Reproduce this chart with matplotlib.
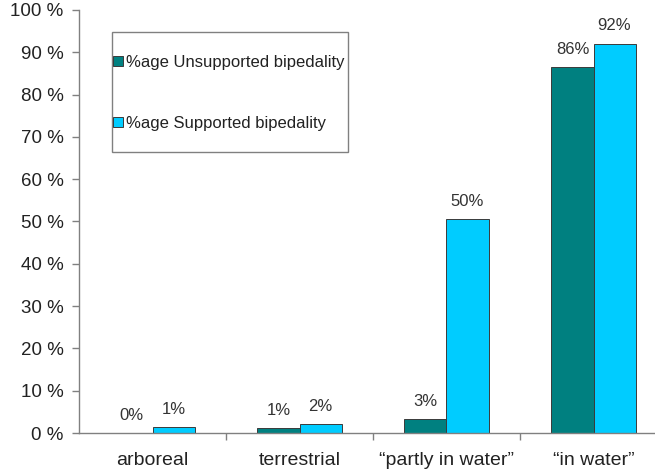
import matplotlib
matplotlib.use("Agg")
import matplotlib.pyplot as plt
import numpy as np
from matplotlib.patches import Rectangle

categories = ["arboreal", "terrestrial", "\u201cpartly in water\u201d", "\u201cin water\u201d"]
unsupported = [0.0, 1.2, 3.3, 86.5]
supported = [1.4, 2.1, 50.5, 92.0]
unsupported_labels = ["0%", "1%", "3%", "86%"]
supported_labels = ["1%", "2%", "50%", "92%"]
series_names = ["%age Unsupported bipedality", "%age Supported bipedality"]
yticks = list(range(0, 101, 10))

plt.rcParams['font.family'] = ['Liberation Sans', 'DejaVu Sans']

fig = plt.figure(figsize=(6.55, 4.70), dpi=100)
ax = fig.add_axes([79/655, 37/470, 588/655, 423/470])

x = np.arange(len(categories))
w = 0.286
c_dark = "#008080"
c_light = "#00CCFF"
ax.bar(x - w/2, unsupported, w, color=c_dark, edgecolor="#3a3a3a", linewidth=0.7,
       label=series_names[0])
ax.bar(x + w/2, supported, w, color=c_light, edgecolor="#3a3a3a", linewidth=0.7,
       label=series_names[1])

for xi, v, t in zip(x - w/2, unsupported, unsupported_labels):
    ax.annotate(t, (xi, v), xytext=(0, 7.5), textcoords="offset points",
                ha="center", va="bottom", fontsize=12, color="#333333")
for xi, v, t in zip(x + w/2, supported, supported_labels):
    ax.annotate(t, (xi, v), xytext=(0, 7.5), textcoords="offset points",
                ha="center", va="bottom", fontsize=12, color="#333333")

ax.set_xlim(-0.5, 3.5)
ax.set_ylim(0, 100)
ax.set_yticks(yticks)
ax.set_yticklabels([f"{v} %" for v in yticks], fontsize=13.5, color="#222222")
ax.set_xticks(x)
ax.set_xticklabels(categories, fontsize=14, color="#222222")
ax.set_xticks([0.5, 1.5, 2.5], minor=True)
ax.tick_params(axis="x", which="major", length=0, pad=14)
ax.tick_params(axis="x", which="minor", length=5, color="#808080", width=1)
ax.tick_params(axis="y", length=5, color="#808080", width=1, pad=6)

for s in ["top", "right"]:
    ax.spines[s].set_visible(False)
for s in ["left", "bottom"]:
    ax.spines[s].set_color("#808080")
    ax.spines[s].set_linewidth(1)

# legend box
ax.add_patch(Rectangle((0.0561, 0.664), 0.4014, 0.284, transform=ax.transAxes,
                       facecolor="white", edgecolor="#808080", linewidth=1, zorder=4))
leg = ax.legend(loc="center left", bbox_to_anchor=(0.058, 0.804), frameon=False,
                fontsize=12, handlelength=0.6, handleheight=0.6, handletextpad=0.2,
                labelspacing=2.75, borderpad=0, borderaxespad=0)
leg.set_zorder(5)
for t in leg.get_texts():
    t.set_color("#222222")

fig.savefig("out.png", dpi=100, facecolor="white")
